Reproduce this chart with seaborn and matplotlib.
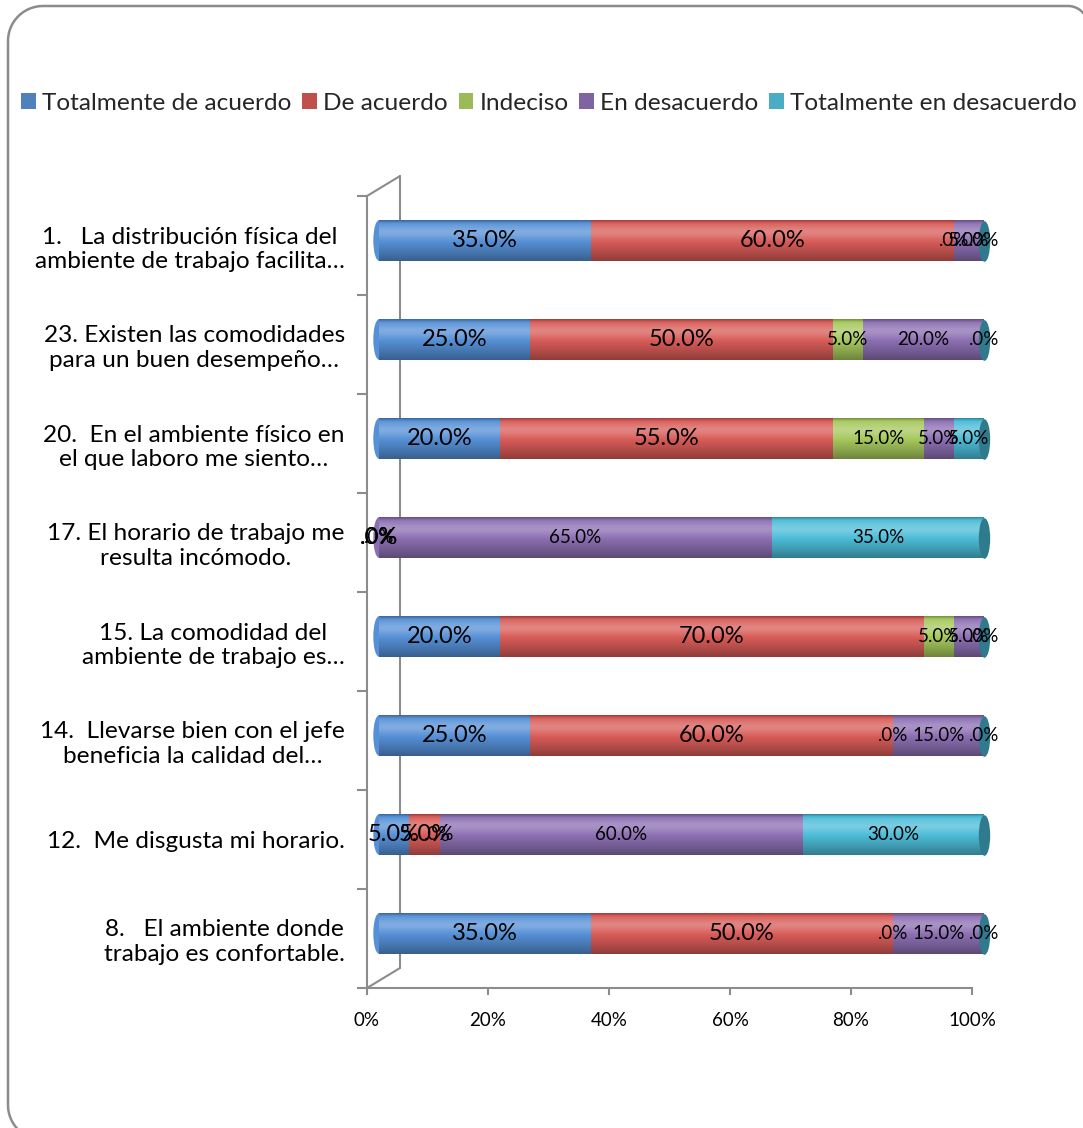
import numpy as np
import pandas as pd
import matplotlib
matplotlib.use("Agg")
import matplotlib.pyplot as plt
import matplotlib.transforms as mtransforms
from matplotlib.patches import Patch, PathPatch
from matplotlib.path import Path
from matplotlib.lines import Line2D
import seaborn as sns

# ---------------- data ----------------
categories = [
    "1.   La distribución física del\nambiente de trabajo facilita…",
    "23. Existen las comodidades\npara un buen desempeño…",
    "20.  En el ambiente físico en\nel que laboro me siento…",
    "17. El horario de trabajo me\nresulta incómodo.",
    "15. La comodidad del\nambiente de trabajo es…",
    "14.  Llevarse bien con el jefe\nbeneficia la calidad del…",
    "12.  Me disgusta mi horario.",
    "8.   El ambiente donde\ntrabajo es confortable.",
]
series_names = ["Totalmente de acuerdo", "De acuerdo", "Indeciso",
                "En desacuerdo", "Totalmente en desacuerdo"]
totalmente_de_acuerdo = [35, 25, 20, 0, 20, 25, 5, 35]
de_acuerdo = [60, 50, 55, 0, 70, 60, 5, 50]
indeciso = [0, 5, 15, 0, 5, 0, 0, 0]
en_desacuerdo = [5, 20, 5, 65, 5, 15, 60, 15]
totalmente_en_desacuerdo = [0, 0, 5, 35, 0, 0, 30, 0]
x_ticks = [0, 20, 40, 60, 80, 100]
x_tick_labels = ["0%", "20%", "40%", "60%", "80%", "100%"]

# ---------------- style ----------------
legend_colors = ["#4F81BD", "#C0504D", "#9BBB59", "#8064A2", "#4BACC6"]
bar_colors = ["#5690D6", "#D85C58", "#A6C85C", "#8C6FB2", "#4CBCD8"]
cap_color = "#2F7A8C"
axis_gray = "#8C8C8C"
label_sizes = [17, 17, 13.5, 13.5, 13.5]

sns.set_theme(style="white")
plt.rcParams["font.family"] = ["Lato", "DejaVu Sans"]

W, H = 1083, 1128
fig = plt.figure(figsize=(W / 100, H / 100), dpi=100)
ax = fig.add_axes([367 / W, 1 - 988 / H, 605 / W, 792 / H])

series = [totalmente_de_acuerdo, de_acuerdo, indeciso, en_desacuerdo,
          totalmente_en_desacuerdo]
vals = np.array(series, dtype=float)          # 5 x 8
cum = np.cumsum(vals, axis=0)
left = cum - vals
totals = cum[-1]
n = len(categories)

df = pd.DataFrame({"categoria": categories})
for k, name in enumerate(series_names):
    df[name] = cum[k]

bar_w = 0.41
off = mtransforms.offset_copy(ax.transData, fig=fig, x=12, y=5, units="dots")

# left rounded ends (cylinder look)
first_col = []
for i in range(n):
    k0 = next(k for k in range(5) if vals[k, i] > 0)
    first_col.append(bar_colors[k0])
ell = Path.unit_circle().transformed(mtransforms.Affine2D().scale(0.28, 1.0))
bar_px = bar_w * 792 / n
ms = bar_px * 72 / 100
ax.scatter(np.zeros(n), np.arange(n), marker=ell, s=ms ** 2, c=first_col,
           linewidths=0, zorder=1, transform=off, clip_on=False)

# stacked bars drawn as cumulative overlays (largest first)
for k in reversed(range(5)):
    sns.barplot(data=df, x=series_names[k], y="categoria", orient="h",
                order=categories, color=bar_colors[k], saturation=1,
                width=bar_w, linewidth=0, ax=ax, zorder=2)
for p in ax.patches:
    p.set_transform(off)
    p.set_clip_on(False)

# cylinder shading
t = np.linspace(0, 1, 80)
light = (0.25 * np.exp(-((t - 0.28) / 0.17) ** 2)
         - 0.75 * np.clip(t - 0.45, 0, None) ** 1.3
         - 0.3 * np.clip(0.08 - t, 0, None) / 0.08)
rgba = np.zeros((80, 1, 4))
rgba[:, 0, :3] = (light > 0)[:, None].astype(float)
rgba[:, 0, 3] = np.abs(light)
for i in range(n):
    ax.imshow(rgba, extent=[0, totals[i], i + bar_w / 2, i - bar_w / 2],
              origin="upper", aspect="auto", interpolation="bilinear",
              zorder=3, transform=off, clip_on=False)

# end caps
ax.scatter(totals, np.arange(n), marker=ell, s=ms ** 2, c=cap_color,
           linewidths=0, zorder=4, transform=off, clip_on=False)

# data labels
for k in range(5):
    for i in range(n):
        v = vals[k, i]
        txt = ".0%" if v == 0 else f"{v:.1f}%"
        ax.text(left[k, i] + v / 2, i, txt, ha="center", va="center",
                fontsize=label_sizes[k], color="black", zorder=6,
                transform=off, clip_on=False)

# axes formatting
ax.set_xlim(0, 100)
ax.set_ylim(n - 0.5, -0.5)
ax.set_xlabel("")
ax.set_ylabel("")
ax.set_xticks(x_ticks)
ax.set_xticklabels(x_tick_labels, fontsize=13.5)
ax.set_yticks(np.arange(n))
ax.set_yticklabels(categories, fontsize=17.6, multialignment="center")
ax.set_yticks(np.arange(-0.5, n, 1), minor=True)
ax.tick_params(axis="x", bottom=True, length=5, width=1.5, color=axis_gray,
               pad=12, labelcolor="black")
ax.tick_params(axis="y", which="major", left=True, length=0, pad=16,
               labelcolor="black")
ax.tick_params(axis="y", which="minor", left=True, length=7, width=1.5,
               color=axis_gray)
for s in ["top", "right"]:
    ax.spines[s].set_visible(False)
for s in ["left", "bottom"]:
    ax.spines[s].set_color(axis_gray)
    ax.spines[s].set_linewidth(1.5)
ax.set_facecolor("none")

# 3D back wall
dx, dy = 33 / 605, 20 / 792
for xs, ys in [([0, dx], [1, 1 + dy]), ([dx, dx], [1 + dy, dy]),
               ([dx, 0], [dy, 0])]:
    ax.add_line(Line2D(xs, ys, transform=ax.transAxes, color=axis_gray,
                       lw=1.5, clip_on=False, zorder=0))

# legend
handles = [Patch(facecolor=c, edgecolor="none") for c in legend_colors]
fig.legend(handles, series_names, loc="center", ncol=5,
           bbox_to_anchor=(549 / W, 1 - 103 / H), frameon=False,
           fontsize=17.6, handlelength=0.6, handleheight=0.6,
           handletextpad=0.25, columnspacing=0.45, borderaxespad=0)

# rounded outer frame (display pixels, origin bottom-left)
r1, r2 = 35, 20
top_y, left_x, bot_y, corner_x = H - 6, 8, -12, 1068
pts = [(1300, bot_y), (left_x + r1, bot_y)]
a = np.linspace(-np.pi / 2, -np.pi, 20)
pts += list(zip(left_x + r1 + r1 * np.cos(a), bot_y + r1 + r1 * np.sin(a)))
pts += [(left_x, top_y - r1)]
a = np.linspace(np.pi, np.pi / 2, 20)
pts += list(zip(left_x + r1 + r1 * np.cos(a), top_y - r1 + r1 * np.sin(a)))
pts += [(corner_x, top_y)]
a = np.linspace(np.pi / 2, 0, 20)
pts += list(zip(corner_x + r2 * np.cos(a), top_y - r2 + r2 * np.sin(a)))
pts += [(corner_x + r2, -100)]
frame = PathPatch(Path(pts), transform=mtransforms.IdentityTransform(),
                  fill=False, ec=axis_gray, lw=1.8)
fig.add_artist(frame)

fig.savefig("out.png", dpi=100)
